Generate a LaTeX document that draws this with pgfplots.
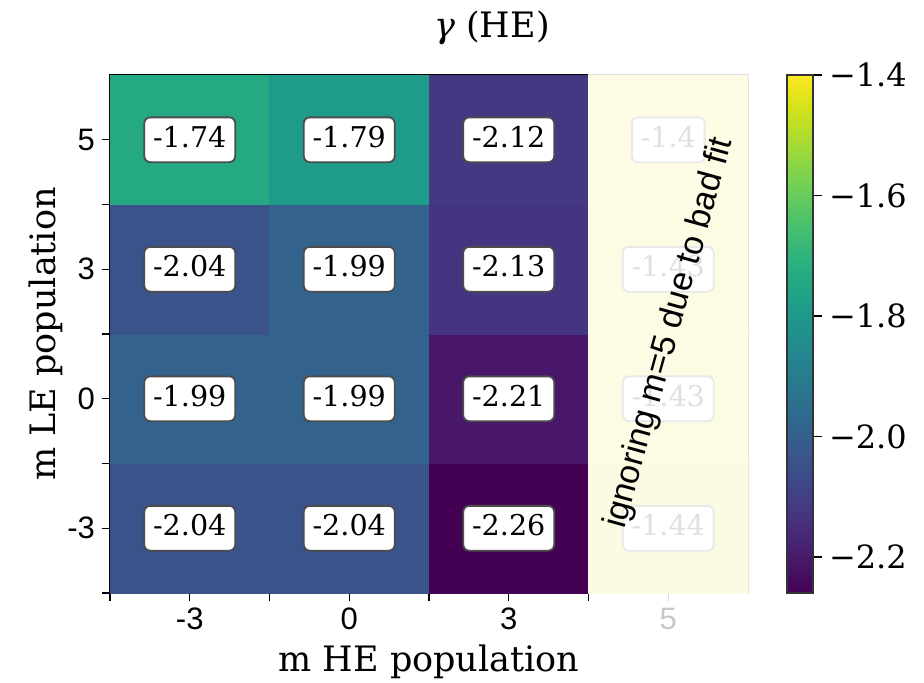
\documentclass[border=0pt]{standalone}
\usepackage{pgfplots}
\pgfplotsset{compat=1.18}
\usepackage{fontspec}
\setmainfont{DejaVu Serif}
\newfontfamily\sansf{Liberation Sans}
\newcommand\tickfs{\sansf\fontsize{15.5}{18}\selectfont}
\newcommand\labfs{\fontsize{17.5}{21}\selectfont}
\newcommand\cbfs{\fontsize{16}{19}\selectfont}
\newcommand\cellfs{\fontsize{14.3}{17}\selectfont}
\newcommand\annfs{\sansf\fontsize{17}{20}\selectfont}
\begin{document}
\begin{tikzpicture}
\path[use as bounding box] (0,0) rectangle (462pt,341pt);
\begin{axis}[
  at={(55pt,44.5pt)}, anchor=south west,
  width=319pt, height=259pt, scale only axis,
  xmin=-0.5, xmax=3.5, ymin=-0.5, ymax=3.5,
  axis line style={line width=0.7pt, black},
  every tick/.style={line width=0.7pt, black},
  tick align=outside, xtick pos=bottom, ytick pos=left,
  major tick length=4pt, minor tick length=4pt,
  xtick={0,1,2}, xticklabels={-3,0,3},
  extra x ticks={3}, extra x tick labels={5},
  extra x tick style={major tick style={draw=black!15}, xticklabel style={text=black!22}},
  minor xtick={-0.5,0.5,1.5,2.5},
  ytick={0,1,2,3}, yticklabels={-3,0,3,5},
  minor ytick={-0.5,0.5,1.5,2.5},
  ticklabel style={font=\tickfs},
  colormap/viridis,
  point meta min=-2.26, point meta max=-1.4,
  colorbar right,
  colorbar shift/.style={xshift=19.5pt},
  colorbar style={
    at={(parent axis.north east)}, anchor=north west,
    width=13pt,
    ytick={-2.2,-2.0,-1.8,-1.6,-1.4},
    yticklabels={−2.2,−2.0,−1.8,−1.6,−1.4},
    yticklabel style={font=\cbfs},
    tick align=outside, ytick pos=right, yticklabel pos=right,
    major tick length=4.5pt,
    axis line style={line width=0.7pt, black!80},
    every tick/.style={line width=0.7pt, black},
  },
]
\addplot[matrix plot*, mesh/cols=4, point meta=explicit] table[x=x, y=y, meta=c] {
x y c
0 0 -2.04
1 0 -2.04
2 0 -2.26
3 0 -1.44
0 1 -1.99
1 1 -1.99
2 1 -2.21
3 1 -1.43
0 2 -2.04
1 2 -1.99
2 2 -2.13
3 2 -1.43
0 3 -1.74
1 3 -1.79
2 3 -2.12
3 3 -1.40
};
\addplot[only marks, mark=none, nodes near coords, point meta=explicit symbolic,
  nodes near coords style={anchor=center, font=\cellfs, fill=white, draw=black!70,
    line width=0.9pt, rounded corners=3pt, inner xsep=4.4pt, inner ysep=4.5pt,
    text height=10.4pt, text depth=3pt}] table[x=x, y=y, meta=lab] {
x y lab
0 0 -2.04
1 0 -2.04
2 0 -2.26
3 0 -1.44
0 1 -1.99
1 1 -1.99
2 1 -2.21
3 1 -1.43
0 2 -2.04
1 2 -1.99
2 2 -2.13
3 2 -1.43
0 3 -1.74
1 3 -1.79
2 3 -2.12
3 3 -1.4
};
\coordinate (ovsw) at (axis cs:2.5,-0.5);
\coordinate (ovne) at (axis cs:3.5,3.5);
\end{axis}
\fill[white, opacity=0.88] ([shift={(-0.3pt,-0.7pt)}]ovsw) rectangle ([shift={(0.7pt,0.7pt)}]ovne);
\node[font=\annfs, rotate=74.5, anchor=center, inner sep=0pt] at (335pt,174.5pt) {ignoring m=5 due to bad fit};
\node[font=\labfs, anchor=base] at (246pt,322.5pt) {{\itshape γ} (HE)};
\node[font=\labfs, anchor=base] at (214.5pt,5.5pt) {m HE population};
\node[font=\labfs, anchor=base, rotate=90] at (27.5pt,174pt) {m LE population};
\end{tikzpicture}
\end{document}
